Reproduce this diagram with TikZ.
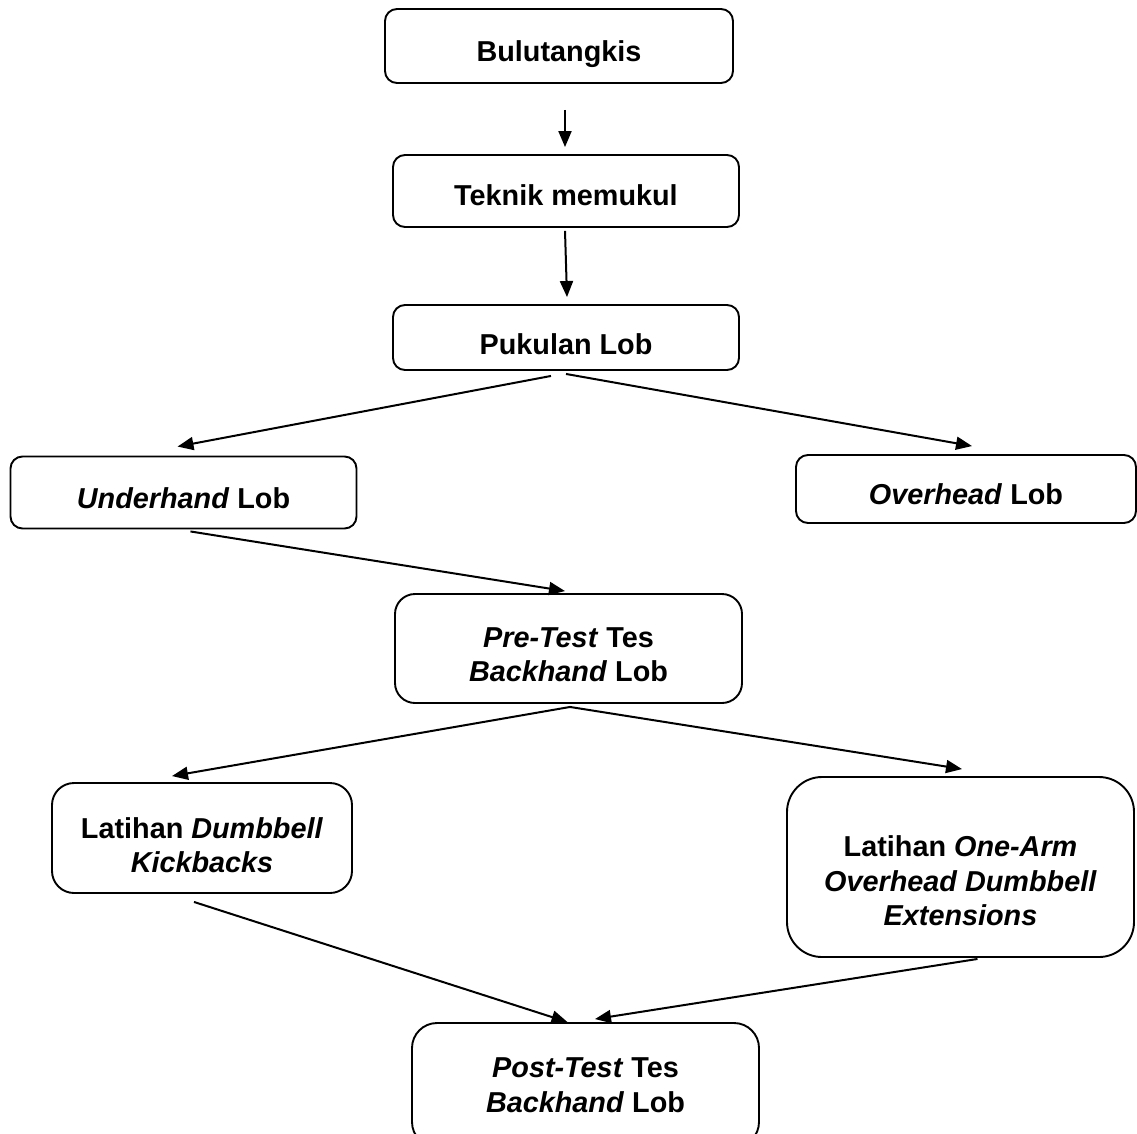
\documentclass[tikz,border=0pt]{standalone}
\usepackage{fontspec}
\setmainfont{Liberation Sans}
\usetikzlibrary{calc,arrows.meta}
\begin{document}
\begin{tikzpicture}[x=1pt,y=-1pt,
  box/.style={draw=black, line width=1.9pt, rounded corners=#1, inner sep=0pt},
  box/.default=12pt,
  txt/.style={inner sep=0pt, align=center, font=\fontsize{28.8}{34.5}\selectfont\bfseries},
  one/.style={text height=21pt, text depth=6pt},
  arr/.style={line width=2pt, -{Triangle[length=16pt,width=13pt]}},
]
\useasboundingbox (0,0) rectangle (1137,1133);
\fill[white] (0,0) rectangle (1137,1133);
\clip (0,0) rectangle (1137,1133);

% boxes
\node[box, minimum width=348pt, minimum height=74pt] (bu) at (559,46) {};
\node[txt, one] (buT) at ($(bu.center)+(0,8)$) {Bulutangkis};

\node[box, minimum width=346pt, minimum height=72pt] (tm) at (566,191) {};
\node[txt, one] (tmT) at ($(tm.center)+(0,7)$) {Teknik memukul};

\node[box, minimum width=346pt, minimum height=65pt] (pl) at (566,337.5) {};
\node[txt, one] (plT) at ($(pl.center)+(0,9)$) {Pukulan Lob};

\node[box, minimum width=346pt, minimum height=72pt] (ul) at (183.5,492.5) {};
\node[txt, one] (ulT) at ($(ul.center)+(0,8)$) {\textit{Underhand} Lob};

\node[box, minimum width=340pt, minimum height=68pt] (ol) at (966,489) {};
\node[txt, one] (olT) at ($(ol.center)+(0,8)$) {\textit{Overhead} Lob};

\node[box=20pt, minimum width=347pt, minimum height=109pt] (pt) at (568.5,648.5) {};
\node[txt] (ptT) at ($(pt.center)+(0,6)$) {\textit{Pre-Test} Tes\\\textit{Backhand} Lob};

\node[box=22pt, minimum width=300pt, minimum height=110pt] (ld) at (202,838) {};
\node[txt] (ldT) at ($(ld.center)+(0,7)$) {Latihan \textit{Dumbbell}\\\textit{Kickbacks}};

\node[box=35pt, minimum width=347pt, minimum height=180pt] (lo) at (960.5,867) {};
\node[txt] (loT) at ($(lo.center)+(0,14)$) {Latihan \textit{One-Arm}\\\textit{Overhead Dumbbell}\\\textit{Extensions}};

\node[box=25pt, minimum width=347pt, minimum height=124pt] (po) at (585.5,1085) {};
\node[txt] (poT) at ($(po.center)+(0,0)$) {\textit{Post-Test} Tes\\\textit{Backhand} Lob};

% connectors
\draw[arr] ($(bu.south)+(6,26)$) -- ($(tm.north)+(-1,-7)$);
\draw[arr] ($(tm.south)+(-1,3)$) -- ($(pl.north)+(1,-7)$);
\draw[arr] ($(pl.south)+(-15,5)$) -- ($(ul.north)+(-6,-9)$);
\draw[arr] ($(pl.south)+(0,3)$) -- ($(ol.north)+(6,-8)$);
\draw[arr] ($(ul.south)+(7,2)$) -- ($(pt.north)+(-3.5,-2)$);
\draw[arr] ($(pt.south)+(1.5,3)$) -- ($(ld.north)+(-30,-6)$);
\draw[arr] ($(pt.south)+(1.5,3)$) -- ($(lo.north)+(1.5,-7)$);
\draw[arr] ($(ld.south)+(-8,8)$) -- ($(po.north)+(-18,0)$);
\draw[arr] ($(lo.south)+(17,1)$) -- ($(po.north)+(9.5,-3)$);
\end{tikzpicture}
\end{document}
